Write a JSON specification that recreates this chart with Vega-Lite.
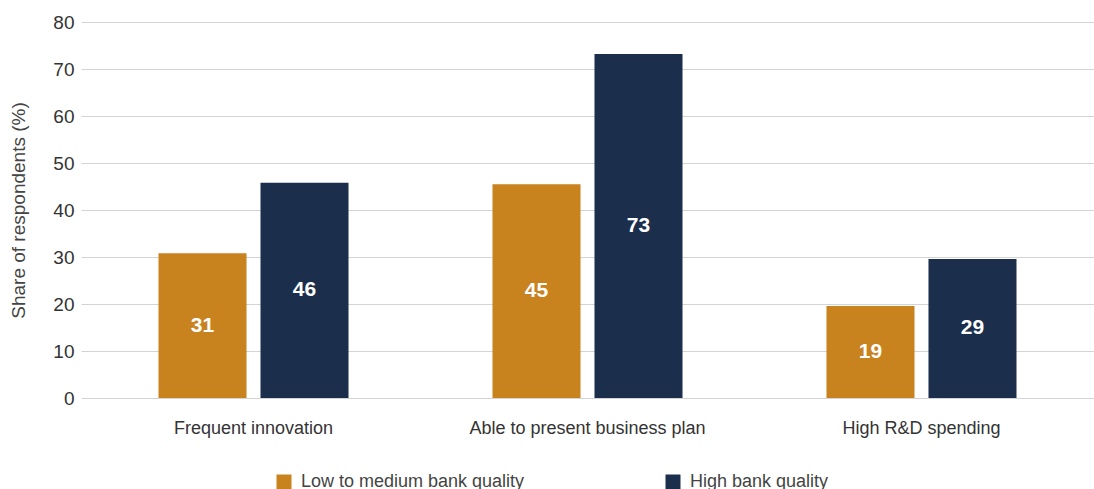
{
  "$schema": "https://vega.github.io/schema/vega-lite/v6.json",
  "autosize": "none",
  "width": 1013,
  "height": 376,
  "padding": {"left": 81, "top": 22, "right": 0, "bottom": 91},
  "background": "white",
  "config": {
    "font": "Liberation Sans",
    "view": {"stroke": null},
    "legend": {"padding": 0}
  },
  "data": {
    "values": [
      {"category": "Frequent innovation", "group": "Low to medium bank quality", "value": 30.8, "label": "31"},
      {"category": "Frequent innovation", "group": "High bank quality", "value": 45.8, "label": "46"},
      {"category": "Able to present business plan", "group": "Low to medium bank quality", "value": 45.5, "label": "45"},
      {"category": "Able to present business plan", "group": "High bank quality", "value": 73.2, "label": "73"},
      {"category": "High R&D spending", "group": "Low to medium bank quality", "value": 19.6, "label": "19"},
      {"category": "High R&D spending", "group": "High bank quality", "value": 29.6, "label": "29"}
    ]
  },
  "encoding": {
    "x": {
      "field": "category", "type": "nominal", "sort": null,
      "scale": {"paddingInner": 0, "paddingOuter": 0.0165},
      "axis": {"title": null, "labelAngle": 0, "labelFontSize": 18, "labelColor": "#333333", "labelPadding": 21, "labelLimit": 400, "ticks": false, "domain": false, "grid": false}
    },
    "xOffset": {
      "field": "group", "type": "nominal",
      "sort": ["Low to medium bank quality", "High bank quality"],
      "scale": {"paddingInner": 0.137, "paddingOuter": 0.7058}
    }
  },
  "layer": [
    {
      "mark": {"type": "bar"},
      "encoding": {
        "y": {
          "field": "value", "type": "quantitative",
          "scale": {"domain": [0, 80], "nice": false},
          "axis": {"title": "Share of respondents (%)", "titleFontSize": 19, "titleFontWeight": "normal", "titleColor": "#444444", "titlePadding": 24, "values": [0,10,20,30,40,50,60,70,80], "labelFontSize": 19, "labelColor": "#333333", "labelPadding": 7, "ticks": false, "domain": false, "gridColor": "#d4d4d4", "gridWidth": 1}
        },
        "color": {
          "field": "group", "type": "nominal",
          "sort": ["Low to medium bank quality", "High bank quality"],
          "scale": {"domain": ["Low to medium bank quality", "High bank quality"], "range": ["#C8821E", "#1B2F4D"]},
          "legend": {
            "title": null, "orient": "none", "legendX": 194, "legendY": 451,
            "direction": "horizontal", "columns": 2,
            "symbolType": "square", "symbolSize": 225, "symbolStrokeWidth": 0, "symbolOpacity": 1,
            "labelFontSize": 18, "labelColor": "#444444", "labelOffset": 8,
            "columnPadding": 139, "labelLimit": 400
          }
        }
      }
    },
    {
      "transform": [{"calculate": "datum.value / 2", "as": "mid"}],
      "mark": {"type": "text", "color": "white", "fontSize": 21, "fontWeight": "bold", "baseline": "middle", "align": "center"},
      "encoding": {
        "y": {"field": "mid", "type": "quantitative"},
        "text": {"field": "label"}
      }
    }
  ]
}
